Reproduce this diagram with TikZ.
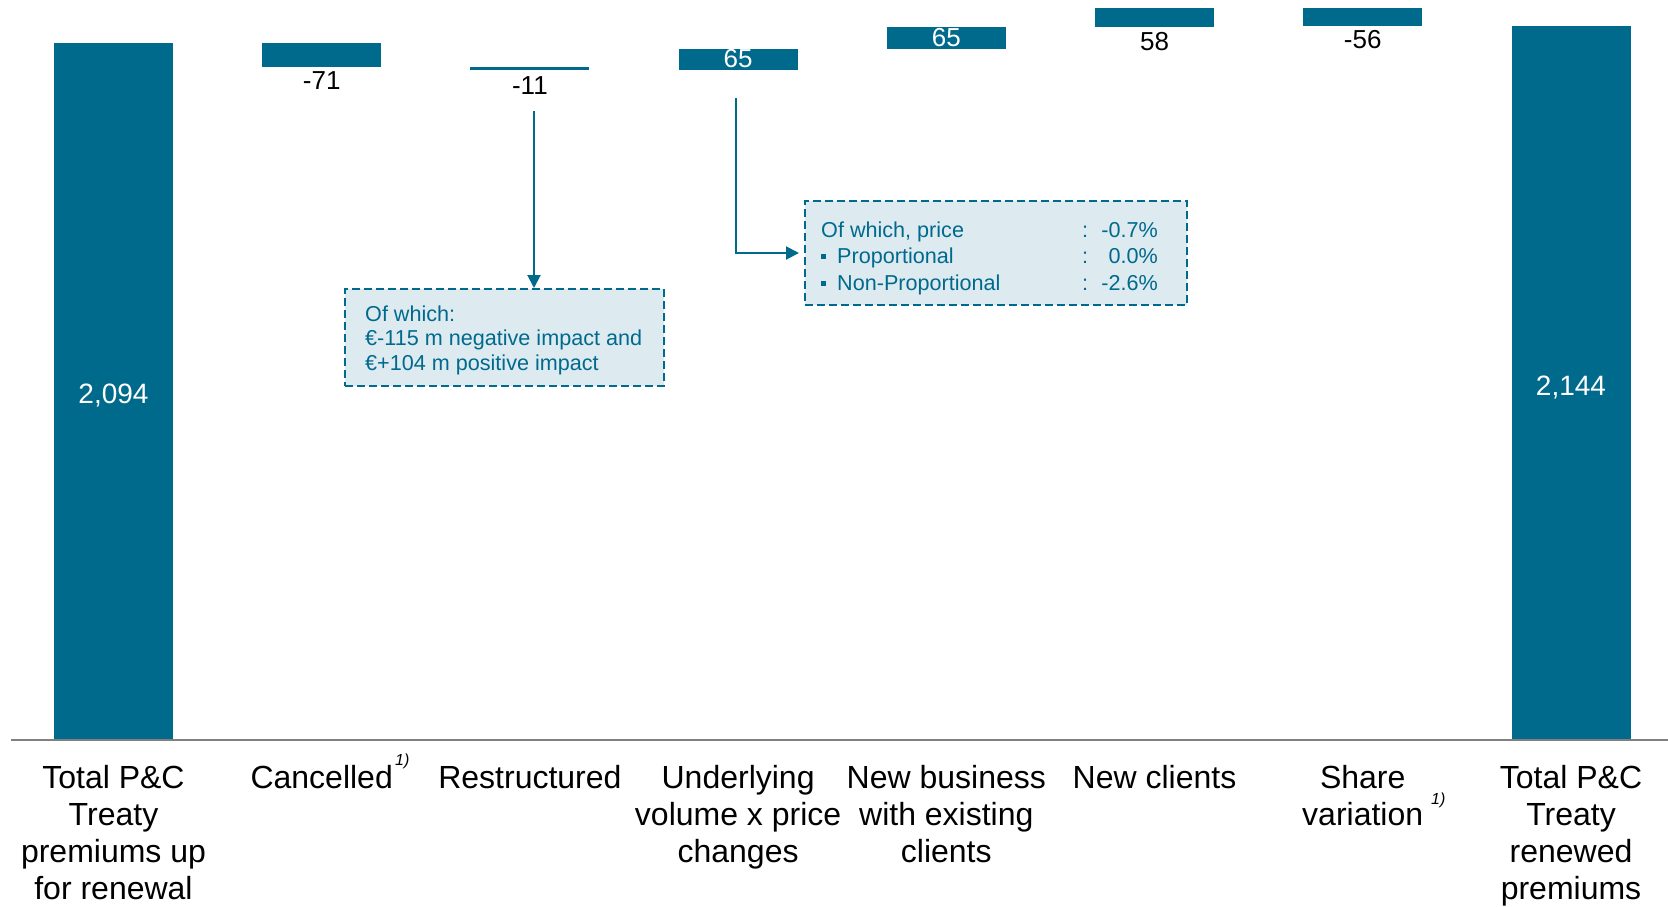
\documentclass[tikz,border=0pt]{standalone}
\usepackage{fontspec}
\setmainfont{Liberation Sans}
\usetikzlibrary{arrows.meta}
\definecolor{tealbar}{RGB}{0,106,141}
\definecolor{boxfill}{RGB}{221,234,240}
\definecolor{axisgray}{RGB}{128,128,128}
\begin{document}
\begin{tikzpicture}[x=1pt,y=-1pt,
  bar/.style={fill=tealbar, draw=none, inner sep=0pt, outer sep=0pt, minimum width=119pt, anchor=north},
  cat/.style={font=\fontsize{32}{37}\selectfont, align=center, anchor=base, inner sep=0pt},
  val/.style={font=\fontsize{26}{30}\selectfont, anchor=base, inner sep=0pt},
  wval/.style={val, text=white},
  bigval/.style={font=\fontsize{28}{32}\selectfont, anchor=base, inner sep=0pt, text=white},
  note/.style={font=\fontsize{16}{18}\selectfont\itshape, anchor=base west, inner sep=0pt},
  callout/.style={draw=tealbar, fill=boxfill, line width=1.8pt, dash pattern=on 8pt off 4pt, inner sep=0pt, outer sep=0pt},
  boxtxt/.style={font=\fontsize{21.6}{24.5}\selectfont, text=tealbar, inner sep=0pt},
  conn/.style={draw=tealbar, line width=2pt, -{Triangle[width=13pt,length=13pt]}}
]
\useasboundingbox (0,0) rectangle (1668,906);

% bars
\node[bar, minimum height=697pt] (b1) at (113.5,43) {};
\node[bar, minimum height=23.6pt] (b2) at (321.7,43) {};
\node[bar, minimum height=3.7pt] (b3) at (529.9,66.6) {};
\node[bar, minimum height=21.6pt] (b4) at (738.1,48.7) {};
\node[bar, minimum height=21.7pt] (b5) at (946.3,27) {};
\node[bar, minimum height=19.3pt] (b6) at (1154.5,7.7) {};
\node[bar, minimum height=18.7pt] (b7) at (1362.7,7.7) {};
\node[bar, minimum height=713.6pt] (b8) at (1571,26.4) {};

% axis
\coordinate (axL) at (11,740);
\coordinate (axR) at (1668,740);
\draw[axisgray, line width=2pt] (axL) -- (axR);

% values
\node[bigval] (v1) at (113.5,403) {2,094};
\node[val] (v2) at (321.7,89) {-71};
\node[val] (v3) at (529.9,94) {-11};
\node[wval] (v4) at (738.1,67) {65};
\node[wval] (v5) at (946.3,46) {65};
\node[val] (v6) at (1154.5,50) {58};
\node[val] (v7) at (1362.7,48) {-56};
\node[bigval] (v8) at (1571,395) {2,144};

% categories (base anchor = last line baseline; first baseline at 788, step 37)
\node[cat] (c1) at (113.5,899) {Total P\&C\\Treaty\\premiums up\\for renewal};
\node[cat] (c2) at (321.7,788) {Cancelled};
\node[note] (n2) at (395,765) {1)};
\node[cat] (c3) at (529.9,788) {Restructured};
\node[cat] (c4) at (738.1,862) {Underlying\\volume x price\\changes};
\node[cat] (c5) at (946.3,862) {New business\\with existing\\clients};
\node[cat] (c6) at (1154.5,788) {New clients};
\node[cat] (c7) at (1362.7,825) {Share\\variation};
\node[note] (n7) at (1431,804) {1)};
\node[cat] (c8) at (1571,899) {Total P\&C\\Treaty\\renewed\\premiums};

% callout boxes
\node[callout, minimum width=319pt, minimum height=97pt] (box1) at (504.5,337.5) {};
\node[boxtxt, anchor=base west] (t11) at (365,321) {Of which:};
\node[boxtxt, anchor=base west] (t12) at (365,345) {€-115 m negative impact and};
\node[boxtxt, anchor=base west] (t13) at (365,370) {€+104 m positive impact};

\node[callout, minimum width=382pt, minimum height=104pt] (box2) at (996,253) {};
\node[boxtxt, anchor=base west] (t21) at (821,237) {Of which, price};
\node[boxtxt, anchor=base west] (t22) at (821,263) {\raisebox{4pt}{\rule{5pt}{5pt}}\hspace{11pt}Proportional};
\node[boxtxt, anchor=base west] (t23) at (821,290) {\raisebox{4pt}{\rule{5pt}{5pt}}\hspace{11pt}Non-Proportional};
\node[boxtxt, anchor=base] (k21) at (1085,237) {:};
\node[boxtxt, anchor=base] (k22) at (1085,263) {:};
\node[boxtxt, anchor=base] (k23) at (1085,290) {:};
\node[boxtxt, anchor=base east] (p21) at (1158,237) {-0.7\%};
\node[boxtxt, anchor=base east] (p22) at (1158,263) {0.0\%};
\node[boxtxt, anchor=base east] (p23) at (1158,290) {-2.6\%};

% connectors
\coordinate (s1) at (534,111);
\coordinate (s2) at (736,98);
\draw[conn, shorten >=1pt] (s1) -- (s1 |- box1.north);
\draw[conn, shorten >=6pt] (s2) |- (box2.west);
\end{tikzpicture}
\end{document}
